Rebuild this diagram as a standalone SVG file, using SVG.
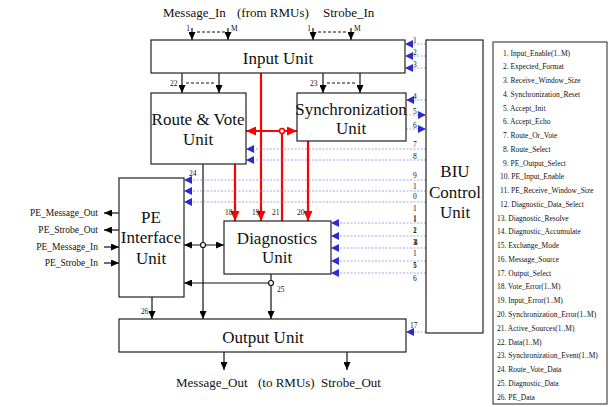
<svg xmlns="http://www.w3.org/2000/svg" width="613" height="407" viewBox="0 0 613 407">
<defs>
<marker id="ab" markerUnits="userSpaceOnUse" markerWidth="8" markerHeight="7" refX="8" refY="3.5" orient="auto-start-reverse"><path d="M0,0 L8,3.5 L0,7 z" fill="#000"/></marker>
<marker id="ar" markerUnits="userSpaceOnUse" markerWidth="10" markerHeight="9" refX="10" refY="4.5" orient="auto-start-reverse"><path d="M0,0 L10,4.5 L0,9 z" fill="#ff0000"/></marker>
<marker id="au" markerUnits="userSpaceOnUse" markerWidth="8" markerHeight="8" refX="8" refY="4" orient="auto"><path d="M0,0 L8,4 L0,8 z" fill="#2b2bd0"/></marker>
</defs>
<style>
.box{fill:#fff;stroke:#222;stroke-width:1.2}
.t{font-family:"Liberation Serif","Times New Roman",serif;fill:#111}
.big{font-size:17px;text-anchor:middle}
.mid{font-size:13px}
.sm{font-size:9.5px}
.tiny{font-size:7.5px}
.lg{font-size:7.5px}
.k{stroke:#111;stroke-width:1.2;fill:none}
.kd{stroke:#111;stroke-width:1;stroke-dasharray:3,2;fill:none}
.r{stroke:#ff0000;stroke-width:2.2;fill:none}
.b{stroke:#8080ee;stroke-width:0.7;stroke-dasharray:2,1.5;fill:none}
</style>
<rect x="0" y="0" width="613" height="407" fill="#fff"/>

<g id="connectors">
<!-- top inputs -->
<line class="k" x1="192" y1="28" x2="192" y2="40" marker-end="url(#ab)"/>
<line class="k" x1="228" y1="28" x2="228" y2="40" marker-end="url(#ab)"/>
<line class="k" x1="313" y1="28" x2="313" y2="40" marker-end="url(#ab)"/>
<line class="k" x1="351" y1="28" x2="351" y2="40" marker-end="url(#ab)"/>
<line class="kd" x1="197" y1="32" x2="225" y2="32"/>
<line class="kd" x1="318" y1="32" x2="347" y2="32"/>
<!-- 22 / 23 -->
<line class="k" x1="182" y1="73" x2="182" y2="93" marker-end="url(#ab)"/>
<line class="k" x1="219" y1="73" x2="219" y2="93" marker-end="url(#ab)"/>
<line class="kd" x1="186" y1="83" x2="216" y2="83"/>
<line class="k" x1="323" y1="73" x2="323" y2="93" marker-end="url(#ab)"/>
<line class="k" x1="360" y1="73" x2="360" y2="93" marker-end="url(#ab)"/>
<line class="kd" x1="327" y1="83" x2="357" y2="83"/>
<!-- red -->
<line class="r" x1="261" y1="73" x2="261" y2="221" marker-end="url(#ar)"/>
<line class="r" x1="235" y1="164" x2="235" y2="221" marker-end="url(#ar)"/>
<line class="r" x1="308" y1="141" x2="308" y2="221" marker-end="url(#ar)"/>
<line class="r" x1="282" y1="131" x2="282" y2="221"/>
<line class="r" x1="246" y1="131" x2="297" y2="131" marker-start="url(#ar)" marker-end="url(#ar)"/>
<circle cx="282" cy="131" r="2.5" fill="#fff" stroke="#ff0000" stroke-width="1.5"/>
<!-- black data paths -->
<line class="k" x1="203" y1="164" x2="203" y2="319" marker-end="url(#ab)"/>
<line class="k" x1="184" y1="245" x2="224" y2="245" marker-start="url(#ab)" marker-end="url(#ab)"/>
<circle cx="203" cy="245" r="2.5" fill="#fff" stroke="#111" stroke-width="1.2"/>
<line class="k" x1="271" y1="274" x2="271" y2="319" marker-end="url(#ab)"/>
<line class="k" x1="271" y1="283" x2="184" y2="283" marker-end="url(#ab)"/>
<circle cx="271" cy="283" r="2.5" fill="#fff" stroke="#111" stroke-width="1.2"/>
<line class="k" x1="152" y1="297" x2="152" y2="319" marker-end="url(#ab)"/>
<line class="k" x1="224" y1="352" x2="224" y2="370" marker-end="url(#ab)"/>
<line class="k" x1="347" y1="352" x2="347" y2="370" marker-end="url(#ab)"/>
<!-- PE side -->
<line class="k" x1="119" y1="213" x2="104" y2="213" marker-end="url(#ab)"/>
<line class="k" x1="119" y1="230" x2="104" y2="230" marker-end="url(#ab)"/>
<line class="k" x1="104" y1="247" x2="119" y2="247" marker-end="url(#ab)"/>
<line class="k" x1="104" y1="263" x2="119" y2="263" marker-end="url(#ab)"/>
<!-- blue control -->
<line class="b" x1="426" y1="44" x2="405" y2="44" marker-end="url(#au)"/>
<line class="b" x1="426" y1="56" x2="405" y2="56" marker-end="url(#au)"/>
<line class="b" x1="426" y1="68" x2="405" y2="68" marker-end="url(#au)"/>
<line class="b" x1="426" y1="100" x2="406" y2="100" marker-end="url(#au)"/>
<line class="b" x1="406" y1="115" x2="426" y2="115" marker-end="url(#au)"/>
<line class="b" x1="406" y1="129" x2="426" y2="129" marker-end="url(#au)"/>
<line class="b" x1="426" y1="149" x2="246" y2="149" marker-end="url(#au)"/>
<line class="b" x1="426" y1="160" x2="246" y2="160" marker-end="url(#au)"/>
<line class="b" x1="426" y1="180" x2="184" y2="180" marker-end="url(#au)"/>
<line class="b" x1="426" y1="191" x2="184" y2="191" marker-end="url(#au)"/>
<line class="b" x1="426" y1="202" x2="184" y2="202" marker-end="url(#au)"/>
<line class="b" x1="426" y1="223" x2="331" y2="223" marker-end="url(#au)"/>
<line class="b" x1="426" y1="236" x2="331" y2="236" marker-end="url(#au)"/>
<line class="b" x1="426" y1="248" x2="331" y2="248" marker-end="url(#au)"/>
<line class="b" x1="426" y1="261" x2="331" y2="261" marker-end="url(#au)"/>
<line class="b" x1="426" y1="273" x2="331" y2="273" marker-end="url(#au)"/>
<line class="b" x1="426" y1="332" x2="406" y2="332" marker-end="url(#au)"/>
</g>

<g id="input-unit"><rect class="box" x="151" y="40" width="254" height="33"/><text class="t big" x="278" y="64">Input Unit</text></g>
<g id="route-vote-unit"><rect class="box" x="151" y="93" width="95" height="71"/><text class="t big" x="198" y="125">Route &amp; Vote</text><text class="t big" x="198" y="145">Unit</text></g>
<g id="sync-unit"><rect class="box" x="297" y="93" width="109" height="48"/><text class="t big" x="351" y="115">Synchronization</text><text class="t big" x="351" y="134">Unit</text></g>
<g id="pe-interface-unit"><rect class="box" x="119" y="178" width="65" height="119"/><text class="t big" x="151" y="223">PE</text><text class="t big" x="151" y="243">Interface</text><text class="t big" x="151" y="264">Unit</text></g>
<g id="diagnostics-unit"><rect class="box" x="224" y="221" width="107" height="53"/><text class="t big" x="277" y="244">Diagnostics</text><text class="t big" x="277" y="263">Unit</text></g>
<g id="output-unit"><rect class="box" x="119" y="319" width="287" height="33"/><text class="t big" x="263" y="343">Output Unit</text></g>
<g id="biu-control-unit"><rect class="box" x="426" y="40" width="57" height="293"/><text class="t big" x="455" y="177">BIU</text><text class="t big" x="455" y="198">Control</text><text class="t big" x="455" y="218">Unit</text></g>

<g id="io-labels">
<text class="t mid" x="163" y="17">Message_In</text>
<text class="t mid" x="237" y="17">(from RMUs)</text>
<text class="t mid" x="323" y="17">Strobe_In</text>
<text class="t mid" x="176" y="387">Message_Out</text>
<text class="t mid" x="258" y="387">(to RMUs)</text>
<text class="t mid" x="321" y="387">Strobe_Out</text>
<text class="t sm" x="98" y="216" text-anchor="end">PE_Message_Out</text>
<text class="t sm" x="98" y="233" text-anchor="end">PE_Strobe_Out</text>
<text class="t sm" x="98" y="250" text-anchor="end">PE_Message_In</text>
<text class="t sm" x="98" y="266" text-anchor="end">PE_Strobe_In</text>
</g>

<g id="signal-numbers" class="t tiny">
<text x="190" y="31" text-anchor="end">1</text><text x="231" y="31">M</text>
<text x="311" y="31" text-anchor="end">1</text><text x="354" y="31">M</text>
<text x="170" y="86">22</text><text x="310" y="86">23</text>
<text x="225" y="215">18</text><text x="252" y="215">19</text><text x="272" y="215">21</text><text x="297" y="215">20</text>
<text x="189" y="176">24</text><text x="277" y="292">25</text><text x="141" y="314">26</text><text x="410" y="328">17</text>
<text x="413" y="43">1</text><text x="413" y="55">2</text><text x="413" y="67">3</text>
<text x="413" y="99">4</text><text x="413" y="114">5</text><text x="413" y="128">6</text>
<text x="413" y="147">7</text><text x="413" y="159">8</text><text x="413" y="178">9</text>
<text x="413" y="189">1</text><text x="413" y="199">0</text>
<text x="413" y="211">1</text><text x="413" y="221">1</text>
<text x="413" y="222">1</text><text x="413" y="233">2</text>
<text x="413" y="233">1</text><text x="413" y="245">3</text>
<text x="413" y="245">1</text><text x="414" y="245">4</text>
<text x="413" y="256">1</text><text x="413" y="268">5</text>
<text x="413" y="268">1</text><text x="413" y="281">6</text>
</g>

<g id="legend">
<rect x="493" y="42" width="114" height="362" fill="#fff" stroke="#222" stroke-width="1"/>
<g class="t lg">
<text x="503" y="55.5">1.  Input_Enable(1..M)</text>
<text x="503" y="69.3">2.  Expected_Format</text>
<text x="503" y="83">3.  Receive_Window_Size</text>
<text x="503" y="96.8">4.  Synchronization_Reset</text>
<text x="503" y="110.5">5.  Accept_Init</text>
<text x="503" y="124.3">6.  Accept_Echo</text>
<text x="503" y="138.1">7.  Route_Or_Vote</text>
<text x="503" y="151.8">8.  Route_Select</text>
<text x="503" y="165.6">9.  PE_Output_Select</text>
<text x="500" y="179.3">10.  PE_Input_Enable</text>
<text x="500" y="193.1">11.  PE_Receive_Window_Size</text>
<text x="500" y="206.9">12.  Diagnostic_Data_Select</text>
<text x="497" y="220.6">13.  Diagnostic_Resolve</text>
<text x="497" y="234.4">14.  Diagnostic_Accumulate</text>
<text x="497" y="248.1">15.  Exchange_Mode</text>
<text x="497" y="261.9">16.  Message_Source</text>
<text x="497" y="275.7">17.  Output_Select</text>
<text x="497" y="289.4">18.  Vote_Error(1..M)</text>
<text x="497" y="303.2">19.  Input_Error(1..M)</text>
<text x="497" y="316.9">20. Synchronization_Error(1..M)</text>
<text x="497" y="330.7">21. Active_Sources(1..M)</text>
<text x="497" y="344.5">22. Data(1..M)</text>
<text x="497" y="358.2">23.  Synchronization_Event(1..M)</text>
<text x="497" y="372">24.  Route_Vote_Data</text>
<text x="497" y="385.7">25.  Diagnostic_Data</text>
<text x="497" y="399.5">26. PE_Data</text>
</g>
</g>
</svg>
